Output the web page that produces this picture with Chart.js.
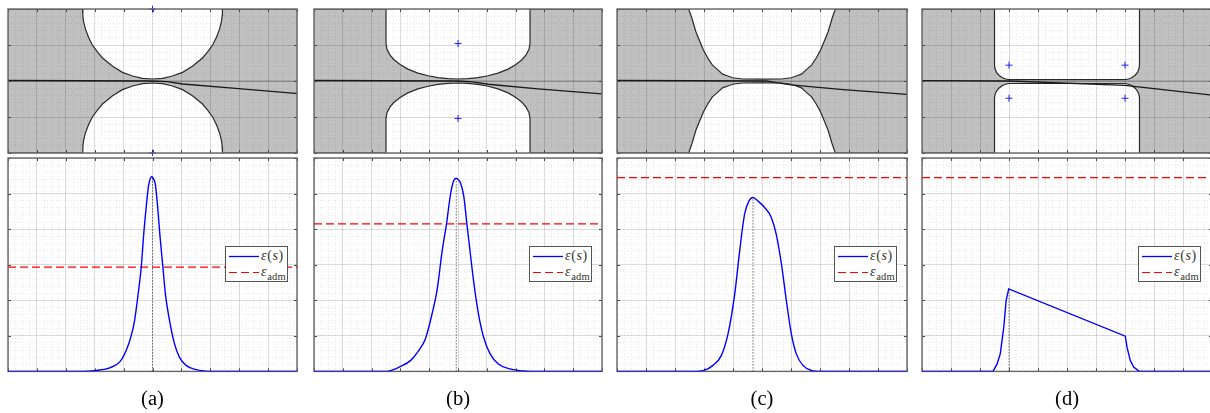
<!DOCTYPE html>
<html>
<head>
<meta charset="utf-8">
<title>Strain along the fillet</title>
<script src="https://cdn.jsdelivr.net/npm/chart.js@4/dist/chart.umd.js"></script>
<style>
  html, body { margin: 0; padding: 0; background: #fff; }
  body { position: relative; width: 1210px; height: 413px; overflow: hidden; }
  canvas { position: absolute; }
  .legend { position: absolute; top: 246px; width: 61px; height: 34px; background: #fff; border: 1px solid #555;
    font: 14px "Liberation Serif", serif; color: #333; letter-spacing: 0.6px; }
  .row { position: absolute; left: 3px; height: 16px; line-height: 16px; white-space: nowrap; }
  .row svg { display: inline-block; vertical-align: middle; margin-right: 2px; }
  .row sub { font-size: 10.5px; line-height: 0; font-style: normal; letter-spacing: 0.2px; }
</style>
</head>
<body>
<script>
//categorias
const captions = ['(a)', '(b)', '(c)', '(d)'];
const curveLabels = ['ε(s)', 'εadm'];

//perfil de la pared (a)
const wallXa = [-5, -2.42, -2.41, -2.39, -2.32, -2.21, -2.08, -1.9, -1.73, -1.38, -1.04, -0.69, -0.35, 0, 0.35, 0.69, 1.04, 1.38, 1.73, 1.9, 2.08, 2.21, 2.32, 2.39, 2.41, 2.42, 5];
const wallUpA = [2, 2, 1.82, 1.67, 1.44, 1.21, 1, 0.8, 0.64, 0.41, 0.24, 0.14, 0.075, 0.055, 0.075, 0.14, 0.24, 0.41, 0.64, 0.8, 1, 1.21, 1.44, 1.67, 1.82, 2, 2];
const wallLowA = [-2, -2, -1.82, -1.67, -1.44, -1.21, -1, -0.8, -0.64, -0.41, -0.24, -0.14, -0.075, -0.055, -0.075, -0.14, -0.24, -0.41, -0.64, -0.8, -1, -1.21, -1.44, -1.67, -1.82, -2, -2];

//perfil de la pared (b)
const wallXb = [-5, -2.5, -2.5, -2.465, -2.36, -2.22, -2.01, -1.74, -1.39, -1.04, -0.69, -0.35, 0, 0.35, 0.69, 1.04, 1.39, 1.74, 2.01, 2.22, 2.36, 2.465, 2.5, 2.5, 5];
const wallUpB = [2, 2, 1.04, 0.88, 0.72, 0.59, 0.46, 0.33, 0.22, 0.145, 0.095, 0.065, 0.055, 0.065, 0.095, 0.145, 0.22, 0.33, 0.46, 0.59, 0.72, 0.88, 1.04, 2, 2];
const wallLowB = [-2, -2, -1.04, -0.88, -0.72, -0.59, -0.46, -0.33, -0.22, -0.145, -0.095, -0.065, -0.055, -0.065, -0.095, -0.145, -0.22, -0.33, -0.46, -0.59, -0.72, -0.88, -1.04, -2, -2];

//perfil de la pared (c)
const wallXc = [-5, -2.53, -2.42, -2.28, -2.15, -2.02, -1.87, -1.71, -1.52, -1.36, -1.18, -1.01, -0.67, 0, 0.67, 1.01, 1.18, 1.36, 1.52, 1.71, 1.87, 2.02, 2.15, 2.28, 2.42, 2.53, 5];
const wallUpC = [2, 2, 1.75, 1.37, 1.11, 0.86, 0.64, 0.44, 0.31, 0.19, 0.14, 0.09, 0.055, 0.05, 0.055, 0.09, 0.14, 0.19, 0.31, 0.44, 0.64, 0.86, 1.11, 1.37, 1.75, 2, 2];
const wallLowC = [-2, -2, -1.75, -1.37, -1.11, -0.86, -0.64, -0.44, -0.31, -0.19, -0.14, -0.09, -0.055, -0.05, -0.055, -0.09, -0.14, -0.19, -0.31, -0.44, -0.64, -0.86, -1.11, -1.37, -1.75, -2, -2];

//perfil de la pared (d)
const wallXd = [-5, -2.5, -2.5, -2.48, -2.43, -2.35, -2.24, -2.12, -1.99, 1.99, 2.12, 2.24, 2.35, 2.43, 2.48, 2.5, 2.5, 5];
const wallUpD = [2, 2, 0.44, 0.34, 0.24, 0.16, 0.095, 0.055, 0.04, 0.04, 0.055, 0.095, 0.16, 0.24, 0.34, 0.44, 2, 2];
const wallLowD = [-2, -2, -0.47, -0.37, -0.28, -0.2, -0.13, -0.09, -0.07, -0.07, -0.09, -0.13, -0.2, -0.28, -0.37, -0.47, -2, -2];

//viga deformada
const beamXa = [-5, 0, 0.5, 1.05, 2.77, 4.95, 5];
const beamYa = [0.014, 0, -0.02, -0.083, -0.2, -0.342, -0.345];
const beamXb = [-5, 0, 0.5, 1.05, 2.77, 5];
const beamYb = [0.014, 0, -0.025, -0.09, -0.22, -0.36];
const beamXc = [-5, 0.15, 0.55, 1, 2.8, 5];
const beamYc = [0.014, 0, -0.05, -0.11, -0.24, -0.37];
const beamXd = [-5, -2, 2, 5];
const beamYd = [0.01, 0, -0.12, -0.39];

//centros de las circunferencias
const centerXa = [0, 0];
const centerYa = [2, -2];
const centerXb = [0, 0];
const centerYb = [1.04, -1.04];
const centerXc = [];
const centerYc = [];
const centerXd = [-2, 2, -2, 2];
const centerYd = [0.44, 0.44, -0.48, -0.48];

//deformación ε(s)
const strainXa = [-5, -2.4, -1.94, -1.48, -1.14, -0.91, -0.74, -0.62, -0.51, -0.39, -0.3, -0.22, -0.14, -0.08, -0.02, 0.03, 0.1, 0.18, 0.26, 0.36, 0.45, 0.59, 0.76, 0.93, 1.16, 1.51, 2.08, 5];
const strainYa = [0, 0, 0.03, 0.1, 0.26, 0.59, 0.99, 1.43, 2.09, 2.93, 3.9, 4.6, 5.2, 5.42, 5.48, 5.42, 5.25, 4.6, 3.8, 2.93, 2.15, 1.43, 0.78, 0.4, 0.17, 0.05, 0, 0];
const strainXb = [-5, -2.5, -1.99, -1.64, -1.36, -1.13, -0.9, -0.72, -0.55, -0.4, -0.26, -0.15, -0.06, 0.02, 0.08, 0.2, 0.31, 0.43, 0.54, 0.71, 0.89, 1.11, 1.4, 1.8, 2.26, 2.5, 5];
const strainYb = [0, 0, 0.14, 0.31, 0.59, 0.92, 1.62, 2.32, 3.39, 4.14, 4.98, 5.36, 5.43, 5.38, 5.31, 4.93, 4.14, 3.3, 2.55, 1.62, 0.96, 0.5, 0.21, 0.07, 0.01, 0, 0];
const strainXc = [-5, -2.4, -2, -1.69, -1.4, -1.17, -0.94, -0.77, -0.6, -0.45, -0.31, -0.14, 0.09, 0.32, 0.49, 0.67, 0.84, 1.01, 1.18, 1.41, 1.7, 2.05, 5];
const strainYc = [0, 0, 0.03, 0.17, 0.45, 1.06, 2.18, 3.39, 4.42, 4.79, 4.89, 4.79, 4.61, 4.33, 3.86, 3.02, 1.99, 1.06, 0.5, 0.17, 0.03, 0, 0];
const strainXd = [-5, -2.55, -2.41, -2.3, -2.18, -2.1, -2.01, 2.01, 2.07, 2.18, 2.3, 2.49, 5];
const strainYd = [0, 0, 0.21, 0.5, 1.24, 1.99, 2.32, 0.99, 0.68, 0.31, 0.12, 0, 0];

//deformación admisible y posición del máximo
const admissible = [2.93, 4.15, 5.45, 5.45];
const peakX = [0, -0.06, -0.31, -2];
const peakY = [5.48, 5.43, 4.89, 2.32];

//colores
const wallColor = 'rgb(192, 192, 192)';
const majorGrid = 'rgba(0, 0, 0, 0.14)';
const minorGrid = 'rgba(0, 0, 0, 0.11)';
const frameColor = '#666';
const strainColor = '#0000ff';
const admColor = '#ff0000';

//posición de cada panel en la página
const panelLeft = [0, 306, 609, 914];
const panelWidth = [305, 304, 306, 306];
const legendLeft = [225, 529, 834, 1138];

function points(xs, ys) {
  return xs.map((x, i) => ({ x: x, y: ys[i] }));
}

function isWhole(v) {
  return Math.abs(v - Math.round(v)) < 1e-6;
}

// marco y marcas hacia adentro
function drawFrame(chart) {
  const { ctx, chartArea: a, scales } = chart;
  ctx.save();
  ctx.strokeStyle = '#444';
  ctx.lineWidth = 1;
  ctx.beginPath();
  for (let t of scales.x.ticks) {
    if (!isWhole(t.value)) continue;
    const px = Math.round(scales.x.getPixelForValue(t.value)) + 0.5;
    ctx.moveTo(px, a.top); ctx.lineTo(px, a.top + 3);
    ctx.moveTo(px, a.bottom); ctx.lineTo(px, a.bottom - 3);
  }
  for (let t of scales.y.ticks) {
    if (!isWhole(t.value)) continue;
    const py = Math.round(scales.y.getPixelForValue(t.value)) + 0.5;
    ctx.moveTo(a.left, py); ctx.lineTo(a.left + 3, py);
    ctx.moveTo(a.right, py); ctx.lineTo(a.right - 3, py);
  }
  ctx.stroke();
  ctx.strokeStyle = frameColor;
  ctx.lineWidth = 1.4;
  ctx.strokeRect(a.left, a.top, a.right - a.left, a.bottom - a.top);
  ctx.restore();
}
const frameOver = { id: 'frameOver', afterDraw: drawFrame };
const frameUnder = { id: 'frameUnder', beforeDatasetsDraw: drawFrame };

function axis(min, max, step, z, caption) {
  const scale = {
    type: 'linear',
    min: min,
    max: max,
    ticks: { display: false, stepSize: step, autoSkip: false, maxTicksLimit: 200 },
    grid: {
      z: z,
      drawTicks: false,
      color: ctx => (ctx.tick && isWhole(ctx.tick.value)) ? majorGrid : minorGrid,
      lineWidth: ctx => (ctx.tick && isWhole(ctx.tick.value)) ? 1 : 0.8
    },
    border: {
      display: false,
      dash: ctx => (ctx.tick && isWhole(ctx.tick.value)) ? [] : [1, 2]
    }
  };
  if (caption) {
    scale.title = {
      display: true,
      text: caption,
      color: '#000',
      font: { family: '"Liberation Serif", serif', size: 20.5 },
      padding: { top: 16, bottom: 1 }
    };
  }
  return scale;
}

function makeCanvas(i, top, height) {
  const canvas = document.createElement('canvas');
  canvas.width = panelWidth[i];
  canvas.height = height;
  canvas.style.left = panelLeft[i] + 'px';
  canvas.style.top = top + 'px';
  document.body.appendChild(canvas);
  return canvas.getContext('2d');
}

function line(data, color, width, extra) {
  return Object.assign({
    data: data,
    borderColor: color,
    borderWidth: width,
    pointRadius: 0,
    tension: 0,
    fill: false
  }, extra || {});
}

function legendKey(color, width, dash) {
  return '<svg width="30" height="3"><line x1="0" y1="1.5" x2="30" y2="1.5" stroke="' + color +
    '" stroke-width="' + width + '" stroke-dasharray="' + dash + '"/></svg>';
}

//GEOMETRÍA (fila superior)
function drawGeometry(i, wallX, wallUp, wallLow, beamX, beamY, centerX, centerY) {
  new Chart(makeCanvas(i, 0, 156), {
    type: 'line',
    plugins: [frameOver],
    data: {
      datasets: [
        {
          data: points(centerX, centerY),
          showLine: false,
          pointStyle: 'cross',
          pointRadius: 3.5,
          pointBorderColor: '#2222ff',
          pointBorderWidth: 1,
          clip: false
        },
        line(points(beamX, beamY), '#1a1a1a', 1.3),
        line(points([-5, 5], [0, 0]), '#8a8a8a', 1),
        line(points(wallX, wallLow), '#2a2a2a', 1.2),
        line(points(wallX, wallUp), '#2a2a2a', 1.2, { fill: '-1', backgroundColor: wallColor })
      ]
    },
    options: {
      responsive: false,
      animation: false,
      layout: { autoPadding: false, padding: { left: 8, right: 8, top: 9, bottom: 3 } },
      plugins: { legend: { display: false }, tooltip: { enabled: false } },
      scales: { x: axis(-5, 5, 0.25, 1), y: axis(-2, 2, 0.2, 1) }
    }
  });
}

//DEFORMACIÓN (fila inferior)
function drawStrain(i, strainX, strainY, smooth) {
  new Chart(makeCanvas(i, 156, 257), {
    type: 'line',
    plugins: [frameUnder],
    data: {
      datasets: [
        line(points(strainX, strainY), strainColor, 1.4, smooth ? { cubicInterpolationMode: 'monotone', label: curveLabels[0] } : { label: curveLabels[0] }),
        line(points([-5, 5], [admissible[i], admissible[i]]), admColor, 1.3, { borderDash: [8, 4], label: curveLabels[1] }),
        line(points([peakX[i], peakX[i]], [0, peakY[i]]), '#222', 1, { borderDash: [1, 2] })
      ]
    },
    options: {
      responsive: false,
      animation: false,
      layout: { autoPadding: false, padding: { left: 8, right: 8, top: 2, bottom: 0 } },
      plugins: { legend: { display: false }, tooltip: { enabled: false } },
      scales: { x: axis(-5, 5, 0.25, 0, captions[i]), y: axis(0, 6, 0.2, 0) }
    }
  });

  // leyenda
  const box = document.createElement('div');
  box.className = 'legend';
  box.style.left = legendLeft[i] + 'px';
  box.innerHTML =
    '<div class="row" style="top:1px">' + legendKey(strainColor, 1.3, 'none') + '<i>ε</i>(<i>s</i>)</div>' +
    '<div class="row" style="top:17px">' + legendKey(admColor, 1.2, '8 4') + '<i>ε</i><sub>adm</sub></div>';
  document.body.appendChild(box);
}

drawGeometry(0, wallXa, wallUpA, wallLowA, beamXa, beamYa, centerXa, centerYa);
drawGeometry(1, wallXb, wallUpB, wallLowB, beamXb, beamYb, centerXb, centerYb);
drawGeometry(2, wallXc, wallUpC, wallLowC, beamXc, beamYc, centerXc, centerYc);
drawGeometry(3, wallXd, wallUpD, wallLowD, beamXd, beamYd, centerXd, centerYd);

drawStrain(0, strainXa, strainYa, true);
drawStrain(1, strainXb, strainYb, true);
drawStrain(2, strainXc, strainYc, true);
drawStrain(3, strainXd, strainYd, false);
</script>
</body>
</html>
